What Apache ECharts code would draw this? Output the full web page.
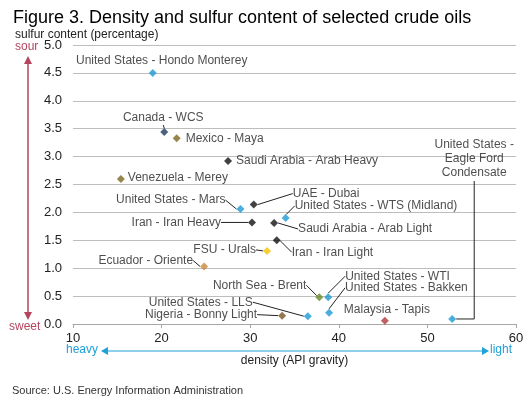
<!DOCTYPE html>
<html>
<head>
<meta charset="utf-8">
<title>Density and sulfur content of selected crude oils</title>
<script src="https://cdn.jsdelivr.net/npm/echarts@6/dist/echarts.min.js"></script>
<style>
  html, body { margin: 0; padding: 0; background: #fff; }
  #chart { width: 528px; height: 401px; }
</style>
</head>
<body>
<div id="chart"></div>
<script>
// crude oil assays
var crudes = [
  'United States - Hondo Monterey', 'Canada - WCS', 'Mexico - Maya',
  'Saudi Arabia - Arab Heavy', 'Venezuela - Merey', 'United States - Mars',
  'UAE - Dubai', 'United States - WTS (Midland)', 'Iran - Iran Heavy',
  'Saudi Arabia - Arab Light', 'Iran - Iran Light', 'FSU - Urals',
  'Ecuador - Oriente', 'North Sea - Brent', 'United States - WTI',
  'United States - Bakken', 'United States - LLS', 'Nigeria - Bonny Light',
  'Malaysia - Tapis', 'United States -\nEagle Ford\nCondensate'
];
var apiGravity = [19.0, 20.3, 21.7, 27.5, 15.4, 28.9, 30.4, 34.0, 30.2, 32.7,
                  33.0, 31.9, 24.8, 37.8, 38.8, 38.9, 36.5, 33.6, 45.2, 52.8];
var sulfurPct  = [4.50, 3.44, 3.33, 2.92, 2.60, 2.06, 2.14, 1.90, 1.82, 1.81,
                  1.50, 1.31, 1.03, 0.48, 0.48, 0.20, 0.14, 0.15, 0.06, 0.09];
var xTicks = [10, 20, 30, 40, 50, 60];
var yTicks = [0, 0.5, 1, 1.5, 2, 2.5, 3, 3.5, 4, 4.5, 5];

// marker colours by crude
var colors = {
  blue: '#1c9ad6', navy: '#1f3a5c', olive: '#7d6622', black: '#111111',
  yellow: '#f2c300', orange: '#c8883a', green: '#6b8a2b', brown: '#7b5722',
  red: '#b23a3a'
};
var pointColor = ['blue', 'navy', 'olive', 'black', 'olive', 'blue', 'black', 'blue',
                  'black', 'black', 'black', 'yellow', 'orange', 'green', 'blue',
                  'blue', 'blue', 'brown', 'red', 'blue'];

// label placement: [position, dx, dy, leader line]
var labelPlace = [
  ['top', 9, 4, false], ['top', -1, 2, true], ['right', 0, 1, false],
  ['right', -1, 0, false], ['right', -2, -1, false], ['left', -6, -9, true],
  ['right', 30, -11, true], ['right', 0, -12, true], ['left', -22, 0, true],
  ['right', 15, 6, true], ['right', 6, 12, true], ['left', -2, -1, true],
  ['left', -2, -6, true], ['left', -4, -12, true], ['right', 8, -21, true],
  ['right', 7, -25, true], ['left', -46, -14, true], ['left', -16, -1, true],
  ['top', 2, 5, false], ['right', 13, -160, false]
];

var points = crudes.map(function (name, i) {
  return {
    name: name,
    value: [apiGravity[i], sulfurPct[i]],
    itemStyle: { color: colors[pointColor[i]] },
    label: { position: labelPlace[i][0] },
    labelLine: { show: labelPlace[i][3] }
  };
});

var chart = echarts.init(document.getElementById('chart'));

var option = {
  animation: false,
  textStyle: { fontFamily: 'Liberation Sans, Arial, sans-serif' },
  title: [
    {
      text: 'Figure 3. Density and sulfur content of selected crude oils',
      left: 8, top: 4,
      textStyle: { fontSize: 18, fontWeight: 'normal', color: '#000' }
    },
    {
      text: 'sulfur content (percentage)',
      left: 10, top: 24,
      textStyle: { fontSize: 12, fontWeight: 'normal', color: '#222' }
    },
    {
      text: 'Source: U.S. Energy Information Administration',
      left: 7, top: 380,
      textStyle: { fontSize: 11, fontWeight: 'normal', color: '#333' }
    }
  ],
  grid: { left: 73, right: 12, top: 45, bottom: 77 },
  xAxis: {
    type: 'value', min: xTicks[0], max: xTicks[xTicks.length - 1], interval: 10,
    name: 'density (API gravity)', nameLocation: 'middle', nameGap: 31,
    nameTextStyle: { fontSize: 12, color: '#222' },
    axisLine: { show: true, lineStyle: { color: '#a6a6a6' } },
    axisTick: { show: true, length: 4, lineStyle: { color: '#a6a6a6' } },
    axisLabel: { fontSize: 13, color: '#222', margin: 8 },
    splitLine: { show: false }
  },
  yAxis: {
    type: 'value', min: yTicks[0], max: yTicks[yTicks.length - 1], interval: 0.5,
    axisLine: { show: false },
    axisTick: { show: false },
    axisLabel: {
      fontSize: 13, color: '#222', margin: 11,
      formatter: function (v) { return v.toFixed(1); }
    },
    splitLine: { lineStyle: { color: '#bdbdbd', width: 1 } }
  },
  series: [{
    type: 'scatter',
    symbol: 'diamond',
    symbolSize: 8,
    data: points,
    label: {
      show: true,
      formatter: '{b}',
      fontSize: 12,
      color: '#222',
      distance: 5,
      lineHeight: 14
    },
    labelLine: {
      show: true,
      lineStyle: { color: '#222', width: 1 }
    },
    labelLayout: function (params) {
      var p = labelPlace[params.dataIndex];
      var lay = { dx: p[1], dy: p[2] };
      if (params.dataIndex === crudes.length - 1) lay.align = 'center';
      return lay;
    },
    emphasis: { disabled: true }
  }]
};

chart.setOption(option);

// elbow leader for the Eagle Ford label, from its point via the axes
var last = crudes.length - 1;
var ef = chart.convertToPixel({ gridIndex: 0 }, [apiGravity[last], sulfurPct[last]]);
var sour = '#b5445f', light = '#1ea0d8';
chart.setOption({
  graphic: [
    { type: 'polyline', shape: { points: [[ef[0] + 4, ef[1]], [ef[0] + 22, ef[1]], [ef[0] + 22, 181]] },
      style: { stroke: '#222', lineWidth: 1, fill: null } },
    // sour / sweet arrow
    { type: 'text', left: 15, top: 41, style: { text: 'sour', fill: sour, font: '12px Liberation Sans, Arial' } },
    { type: 'text', left: 9, top: 321, style: { text: 'sweet', fill: sour, font: '12px Liberation Sans, Arial' } },
    { type: 'line', shape: { x1: 28, y1: 62, x2: 28, y2: 314 }, style: { stroke: sour, lineWidth: 1.5 } },
    { type: 'polygon', shape: { points: [[24, 64], [32, 64], [28, 56]] }, style: { fill: sour } },
    { type: 'polygon', shape: { points: [[24, 312], [32, 312], [28, 320]] }, style: { fill: sour } },
    // heavy / light arrow
    { type: 'text', left: 66, top: 344, style: { text: 'heavy', fill: light, font: '12px Liberation Sans, Arial' } },
    { type: 'text', left: 490, top: 344, style: { text: 'light', fill: light, font: '12px Liberation Sans, Arial' } },
    { type: 'line', shape: { x1: 106, y1: 351, x2: 484, y2: 351 }, style: { stroke: light, lineWidth: 1.2 } },
    { type: 'polygon', shape: { points: [[108, 347], [108, 355], [101, 351]] }, style: { fill: light } },
    { type: 'polygon', shape: { points: [[482, 347], [482, 355], [489, 351]] }, style: { fill: light } }
  ]
});
</script>
</body>
</html>
